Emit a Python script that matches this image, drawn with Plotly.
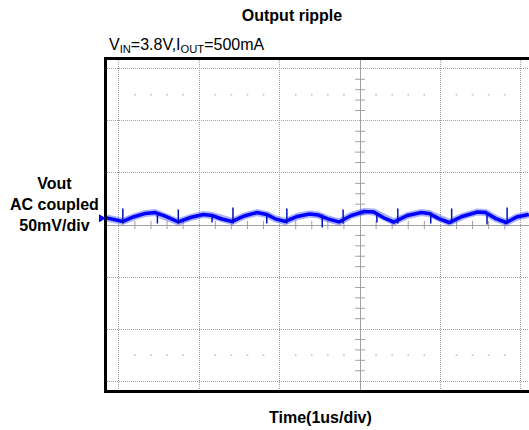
import numpy as np
import plotly.graph_objects as go

# ---- data (time in us, voltage in mV, AC coupled) ----
time_us = [-3.15, -3.05, -2.95, -2.82, -2.67, -2.55, -2.43, -2.26, -2.11, -1.95,
           -1.84, -1.72, -1.59, -1.44, -1.28, -1.16, -1.05, -0.93, -0.78, -0.63,
           -0.52, -0.40, -0.26, -0.11, 0.05, 0.17, 0.30, 0.42, 0.59, 0.76,
           0.86, 0.98, 1.11, 1.27, 1.46, 1.56, 1.69, 1.82, 1.95, 2.10]
vout_mV = [6.7, 4.8, 3.4, 7.7, 11.1, 12.0, 8.7, 2.9, 7.2, 10.1,
           9.1, 5.8, 3.4, 8.7, 12.0, 10.1, 5.8, 3.4, 8.2, 10.6,
           9.6, 5.8, 2.9, 9.1, 13.0, 12.5, 6.7, 2.9, 9.1, 12.0,
           11.1, 6.2, 2.4, 8.2, 12.5, 12.0, 6.2, 2.4, 7.7, 10.1]

# switching spikes: time, low end, high end (mV)
spike_t = [-2.95, -2.52, -2.26, -1.84, -1.58, -1.16, -0.91, -0.47,
           -0.21, 0.21, 0.47, 0.88, 1.14, 1.58, 1.83]
spike_lo = [1.4, 1.4, 1.4, 2.4, 1.4, 1.4, 1.4, -2.4,
            1.4, 2.4, 1.4, 1.4, 1.4, 0.5, 1.4]
spike_hi = [15.9, 12.0, 14.9, 10.0, 16.8, 10.5, 15.9, 10.0,
            14.9, 12.0, 15.9, 12.0, 15.9, 12.0, 16.8]

title_text = "Output ripple"
cond_text = "V<sub>IN</sub>=3.8V,I<sub>OUT</sub>=500mA"
y_label = "<b>Vout<br>AC coupled<br>50mV/div</b>"
x_label = "<b>Time(1us/div)</b>"

MV_PER_DIV = 50.0
US_PER_DIV = 1.0
channel_marker_mV = 6.5

# ---- figure ----
x_div = [t / US_PER_DIV for t in time_us]
y_div = [v / MV_PER_DIV for v in vout_mV]

sx, sy = [], []
for t, lo, hi in zip(spike_t, spike_lo, spike_hi):
    sx += [t / US_PER_DIV, t / US_PER_DIV, None]
    sy += [lo / MV_PER_DIV, hi / MV_PER_DIV, None]

fig = go.Figure()

# graticule minor ticks on centre lines
mt = np.round(np.arange(-3.2, 2.2, 0.2), 3)
mt = [v for v in mt if abs(v - round(v)) > 1e-6]
fig.add_trace(go.Scatter(x=mt, y=[0] * len(mt), mode="markers",
                         marker=dict(symbol="line-ns", size=6, line=dict(color="#a0a0a0", width=1)),
                         hoverinfo="skip", showlegend=False))
myt = np.round(np.arange(-3.2, 3.3, 0.2), 3)
myt = [v for v in myt if abs(v - round(v)) > 1e-6]
fig.add_trace(go.Scatter(x=[0] * len(myt), y=myt, mode="markers",
                         marker=dict(symbol="line-ew", size=7, line=dict(color="#a0a0a0", width=1)),
                         hoverinfo="skip", showlegend=False))
# faint graticule dots
dx = [v for v in mt]
fig.add_trace(go.Scatter(x=dx + dx, y=[2.5] * len(dx) + [-2.5] * len(dx), mode="markers",
                         marker=dict(size=2, color="#c8c8c8"),
                         hoverinfo="skip", showlegend=False))

# waveform (noise band + core)
fig.add_trace(go.Scatter(x=x_div, y=y_div, mode="lines",
                         line=dict(color="rgba(40,60,255,0.4)", width=7),
                         hoverinfo="skip", showlegend=False))
fig.add_trace(go.Scatter(x=x_div, y=y_div, mode="lines",
                         line=dict(color="#0000ff", width=3.5),
                         showlegend=False))
fig.add_trace(go.Scatter(x=sx, y=sy, mode="lines",
                         line=dict(color="#0010c0", width=1.5),
                         showlegend=False))

fig.update_layout(
    width=529, height=430,
    margin=dict(l=107, r=0, t=60, b=40),
    paper_bgcolor="white", plot_bgcolor="white",
    font=dict(family="Liberation Sans, Arial, sans-serif", color="black", size=16),
    title=dict(text="<b>" + title_text + "</b>", x=292 / 529, y=1 - 15 / 430,
               xanchor="center", yanchor="middle",
               font=dict(size=16, family="Liberation Sans, Arial, sans-serif")),
    showlegend=False,
)
fig.update_xaxes(range=[-3.147, 2.102], dtick=1, tick0=0, showticklabels=False,
                 ticks="", showgrid=True, gridcolor="#a0a0a0", griddash="1px,1px", gridwidth=1,
                 zeroline=True, zerolinecolor="#a0a0a0", zerolinewidth=1,
                 showline=True, linecolor="black", linewidth=2.5, mirror=True)
fig.update_yaxes(range=[-3.17, 3.17], dtick=1, tick0=0, showticklabels=False,
                 ticks="", showgrid=True, gridcolor="#a0a0a0", griddash="1px,1px", gridwidth=1,
                 zeroline=True, zerolinecolor="#a0a0a0", zerolinewidth=1,
                 showline=True, linecolor="black", linewidth=2.5, mirror=False)

fig.add_annotation(text=cond_text, xref="paper", yref="paper", x=0.0, y=(390 - 45) / 330,
                   xanchor="left", yanchor="middle", showarrow=False,
                   font=dict(size=16))
fig.add_annotation(text=y_label, xref="paper", yref="paper", x=(54 - 107) / 422,
                   y=(390 - 204.5) / 330, xanchor="center", yanchor="middle",
                   showarrow=False, font=dict(size=16))
fig.add_annotation(text=x_label, xref="paper", yref="paper", x=(320 - 107) / 422,
                   y=(390 - 417) / 330, xanchor="center", yanchor="middle",
                   showarrow=False, font=dict(size=16))

# channel marker arrow at left edge
fig.add_shape(type="path", xref="paper", yref="y", xsizemode="pixel", ysizemode="pixel",
              xanchor=0, yanchor=channel_marker_mV / MV_PER_DIV,
              path="M -8,-4 L -1,0 L -8,4 Z", fillcolor="#0000ff", line=dict(width=0))

fig.write_html("out.html",
               config={"displayModeBar": False},
               post_script="document.body.style.margin='0';document.body.style.overflow='hidden';")
